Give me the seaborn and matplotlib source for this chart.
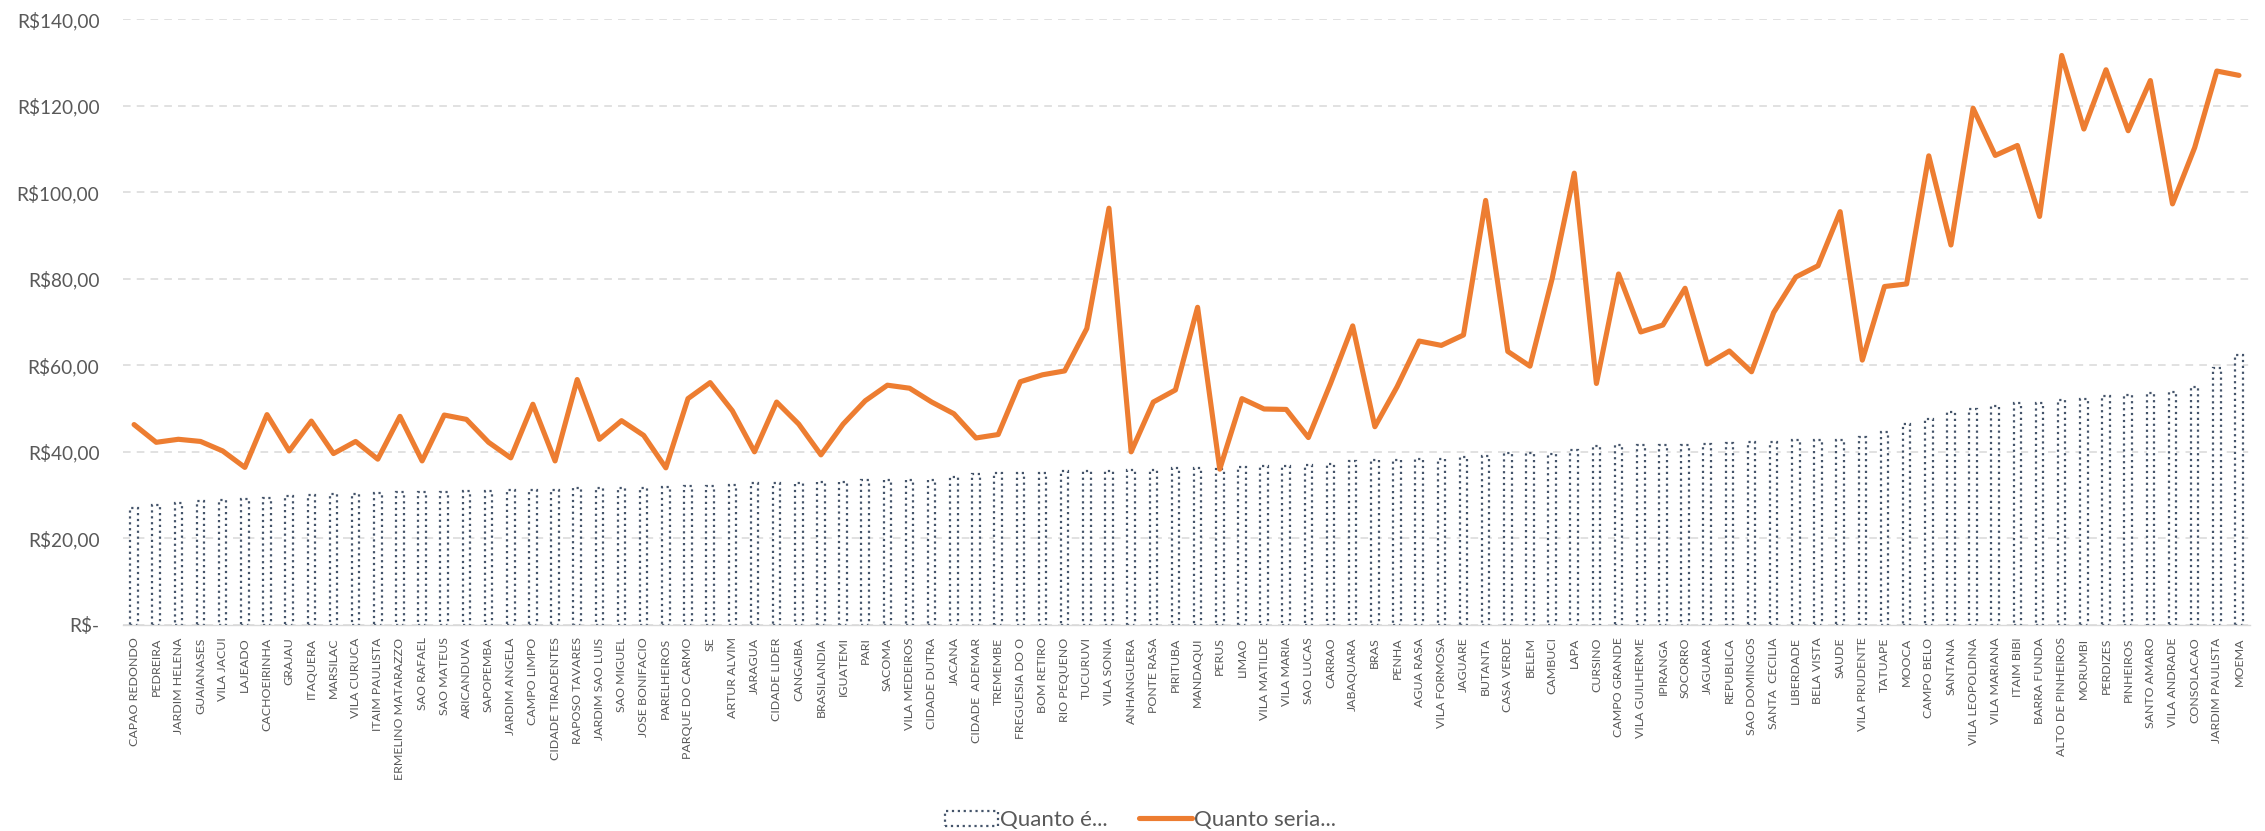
import matplotlib
matplotlib.use("Agg")
import matplotlib.pyplot as plt
from matplotlib.lines import Line2D
from matplotlib.patches import Patch
from matplotlib.ticker import FuncFormatter, MultipleLocator
import seaborn as sns
import pandas as pd
import numpy as np

# bairros de São Paulo, em ordem do valor atual
bairros = [
    'CAPAO REDONDO', 'PEDREIRA', 'JARDIM HELENA', 'GUAIANASES', 'VILA JACUI', 'LAJEADO',
    'CACHOEIRINHA', 'GRAJAU', 'ITAQUERA', 'MARSILAC', 'VILA CURUCA', 'ITAIM PAULISTA',
    'ERMELINO MATARAZZO', 'SAO RAFAEL', 'SAO MATEUS', 'ARICANDUVA', 'SAPOPEMBA', 'JARDIM ANGELA',
    'CAMPO LIMPO', 'CIDADE TIRADENTES', 'RAPOSO TAVARES', 'JARDIM SAO LUIS', 'SAO MIGUEL',
    'JOSE BONIFACIO', 'PARELHEIROS', 'PARQUE DO CARMO', 'SE', 'ARTUR ALVIM', 'JARAGUA',
    'CIDADE LIDER', 'CANGAIBA', 'BRASILANDIA', 'IGUATEMI', 'PARI', 'SACOMA', 'VILA MEDEIROS',
    'CIDADE DUTRA', 'JACANA', 'CIDADE  ADEMAR', 'TREMEMBE', 'FREGUESIA DO O', 'BOM RETIRO',
    'RIO PEQUENO', 'TUCURUVI', 'VILA SONIA', 'ANHANGUERA', 'PONTE RASA', 'PIRITUBA', 'MANDAQUI',
    'PERUS', 'LIMAO', 'VILA MATILDE', 'VILA MARIA', 'SAO LUCAS', 'CARRAO', 'JABAQUARA', 'BRAS',
    'PENHA', 'AGUA RASA', 'VILA FORMOSA', 'JAGUARE', 'BUTANTA', 'CASA VERDE', 'BELEM', 'CAMBUCI',
    'LAPA', 'CURSINO', 'CAMPO GRANDE', 'VILA GUILHERME', 'IPIRANGA', 'SOCORRO', 'JAGUARA',
    'REPUBLICA', 'SAO DOMINGOS', 'SANTA  CECILIA', 'LIBERDADE', 'BELA VISTA', 'SAUDE',
    'VILA PRUDENTE', 'TATUAPE', 'MOOCA', 'CAMPO BELO', 'SANTANA', 'VILA LEOPOLDINA',
    'VILA MARIANA', 'ITAIM BIBI', 'BARRA FUNDA', 'ALTO DE PINHEIROS', 'MORUMBI', 'PERDIZES',
    'PINHEIROS', 'SANTO AMARO', 'VILA ANDRADE', 'CONSOLACAO', 'JARDIM PAULISTA', 'MOEMA',
]

quanto_e = [
    27.0, 27.7, 28.2, 28.7, 28.9, 29.1, 29.3, 29.7, 30.1, 30.2, 30.3, 30.4,
    30.8, 30.8, 30.8, 31.0, 31.0, 31.2, 31.2, 31.2, 31.6, 31.6, 31.6, 31.6,
    31.8, 32.0, 32.1, 32.3, 32.7, 32.7, 32.9, 33.1, 33.1, 33.5, 33.5, 33.6,
    33.6, 34.1, 34.9, 35.0, 35.2, 35.2, 35.5, 35.6, 35.6, 35.8, 35.8, 36.2,
    36.2, 36.0, 36.4, 36.8, 36.8, 37.0, 37.2, 37.8, 38.0, 38.0, 38.4, 38.4,
    38.8, 39.1, 39.7, 39.7, 39.6, 40.5, 41.4, 41.5, 41.6, 41.6, 41.6, 41.7,
    42.1, 42.2, 42.3, 42.8, 42.8, 42.8, 43.4, 44.6, 46.5, 47.5, 49.2, 49.9,
    50.6, 51.2, 51.2, 51.9, 52.2, 52.9, 53.2, 53.6, 53.9, 54.9, 59.3, 62.3,
]

quanto_seria = [
    46.3, 42.2, 42.9, 42.4, 40.2, 36.4, 48.6, 40.2, 47.1, 39.6, 42.4, 38.3,
    48.2, 37.9, 48.5, 47.5, 42.2, 38.6, 51.0, 37.9, 56.7, 42.9, 47.2, 43.8,
    36.3, 52.3, 56.0, 49.5, 40.0, 51.5, 46.4, 39.3, 46.4, 51.8, 55.4, 54.7,
    51.5, 48.8, 43.2, 44.0, 56.2, 57.8, 58.7, 68.5, 96.3, 40.0, 51.5, 54.3,
    73.4, 36.0, 52.3, 49.9, 49.8, 43.3, 55.8, 69.1, 45.8, 55.0, 65.6, 64.6,
    67.0, 98.1, 63.2, 59.8, 80.0, 104.4, 55.8, 81.1, 67.7, 69.3, 77.8, 60.3,
    63.3, 58.5, 72.2, 80.4, 83.0, 95.5, 61.2, 78.2, 78.8, 108.4, 87.8, 119.4,
    108.5, 110.8, 94.4, 131.6, 114.6, 128.3, 114.2, 125.8, 97.3, 110.3, 128.0, 127.0,
]

df = pd.DataFrame({'Bairro': bairros, 'Quanto é...': quanto_e, 'Quanto seria...': quanto_seria})

sns.set_theme(style='white')
plt.rcParams['font.family'] = ['Lato', 'DejaVu Sans']

cinza = '#595959'
azul = '#44546A'
laranja = '#ED7D31'

fig = plt.figure(figsize=(22.65, 8.31), dpi=100)
ax = fig.add_axes([0.0543, 0.248, 0.9391, 0.729])

sns.barplot(data=df, x='Bairro', y='Quanto é...', color='white', edgecolor=azul,
            linewidth=1.6, linestyle=':', width=0.34, ax=ax, zorder=2)
sns.lineplot(x=np.arange(len(bairros)), y=df['Quanto seria...'], color=laranja,
             linewidth=3.7, ax=ax, zorder=3, solid_joinstyle='round', solid_capstyle='round')

ax.set_xlim(-0.5, len(bairros) - 0.5)
ax.set_ylim(0, 140)
ax.yaxis.set_major_locator(MultipleLocator(20))
ax.yaxis.set_major_formatter(FuncFormatter(
    lambda v, p: 'R$-' if v == 0 else 'R$' + f'{v:.2f}'.replace('.', ',')))

ax.yaxis.grid(True, color='#D9D9D9', linestyle=(0, (5, 4)), linewidth=1.1)
ax.xaxis.grid(False)
ax.set_axisbelow(True)

for s in ['top', 'right', 'left']:
    ax.spines[s].set_visible(False)
ax.spines['bottom'].set_color('#D9D9D9')
ax.spines['bottom'].set_linewidth(1.0)

ax.set_xticks(np.arange(len(bairros)))
ax.set_xticklabels(bairros, rotation=90)
ax.tick_params(axis='x', length=0, pad=9, labelsize=8.9, labelcolor=cinza)
ax.tick_params(axis='y', length=0, pad=17, labelsize=13.7, labelcolor=cinza)
ax.set_xlabel('')
ax.set_ylabel('')

handles = [
    Patch(facecolor='white', edgecolor=azul, linestyle=':', linewidth=1.6, label='Quanto é...'),
    Line2D([0], [0], color=laranja, linewidth=3.7, solid_capstyle='round', label='Quanto seria...'),
]
fig.legend(handles=handles, loc='center', bbox_to_anchor=(0.5035, 0.013), ncol=2,
           frameon=False, fontsize=16, handlelength=2.4, handleheight=0.68,
           columnspacing=1.4, handletextpad=0.1, labelcolor=cinza)

fig.savefig('out.png', dpi=100)
